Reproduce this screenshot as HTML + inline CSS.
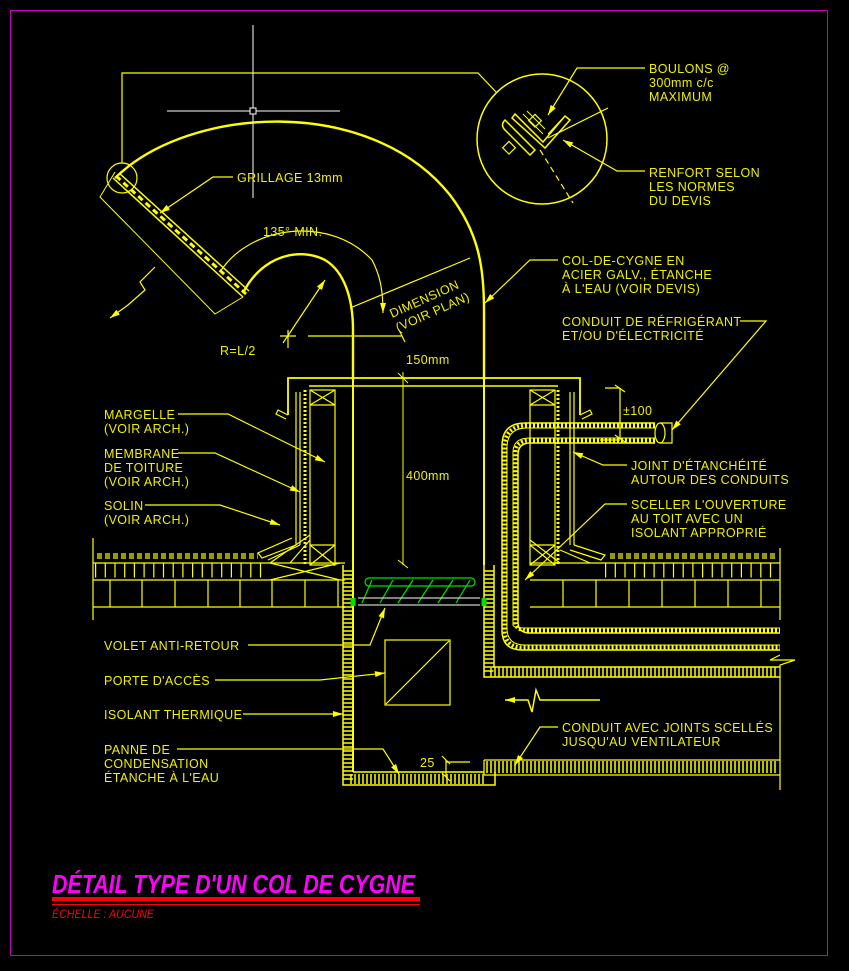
<!DOCTYPE html>
<html><head><meta charset="utf-8"><style>
html,body{margin:0;padding:0;background:#000;}
svg{display:block;}
text{font-family:"Liberation Sans",sans-serif;font-size:12.5px;fill:#f0f000;letter-spacing:0.4px;}
</style></head><body>
<svg width="849" height="971" viewBox="0 0 849 971" xmlns="http://www.w3.org/2000/svg">
<defs>
<marker id="a" viewBox="0 0 10 6" refX="10" refY="3" markerWidth="12" markerHeight="6" markerUnits="userSpaceOnUse" orient="auto"><path d="M0,0L10,3L0,6z" fill="#ff0"/></marker>
</defs>
<rect x="10.5" y="10.5" width="817" height="945" fill="none" stroke="#c000c0" stroke-width="1"/>

<g stroke="#fff" stroke-width="1" fill="none">
<line x1="253" y1="25" x2="253" y2="198"/><line x1="167" y1="111" x2="340" y2="111"/>
<rect x="250" y="108" width="6" height="6" fill="#000"/>
</g>

<g stroke="#ff0" fill="none" stroke-width="1.2">
<path d="M115,178 C190,105 370,95 450,195 C478,232 484,265 484,310 L484,380" stroke-width="2.4"/>
<path d="M243,293 C262,255 300,247 325,260 C345,272 353,300 353,330 L353,380" stroke-width="2.4"/>
<path d="M113,178 L243,297 M119,173 L249,291" stroke-width="1.5"/>
<path d="M116,176 L246,294" stroke-dasharray="6,4" stroke-width="3"/>
<path d="M115,172 L100,197 L215,314 L243,297" stroke-width="1"/>
<circle cx="122" cy="178" r="15"/>
<path d="M122,163 V73 H478 L497,93"/>
<path d="M155,267 L140,282 L145,290 L128,305 L110,318" marker-end="url(#a)"/>
<path d="M220,272 C250,225 330,215 372,260 C380,275 383,290 383,313" marker-end="url(#a)"/>
<path d="M308,336 H402 M399,330 L405,342"/>
<path d="M280,336 H296 M288,330 V348"/>
<path d="M283,343 L325,280" marker-end="url(#a)"/>
<path d="M350,308 L470,258"/>
<!-- detail circle -->
<circle cx="542" cy="139" r="65" stroke-width="1.5"/>
<path d="M540,150 L573,203" stroke-dasharray="6,4"/>
<path d="M548,138 L608,108"/>
<path d="M505,120 Q500,125 505,130 L530,155 L535,150 L510,125 Z" stroke-width="1.5"/>
<path d="M515,114 L543,142 L565,116 L570,120 L545,148 L512,118 Z" stroke-width="1.5"/>
<path d="M519,118 L540,139 M523,114 L543,134 M527,111 L545,129 M548,134 L563,118" stroke-width="1"/>
<rect x="531" y="116" width="9" height="9" transform="rotate(45 535 120)"/>
<rect x="505" y="143" width="9" height="9" transform="rotate(45 509 147)"/>
<path d="M645,68 H577 L548,115" marker-end="url(#a)"/>
<path d="M645,171 H617 L563,140" marker-end="url(#a)"/>
<!-- cap -->
<path d="M288,415 V378 H580 V415" stroke-width="1.8"/>
<path d="M309,386 H558" stroke-width="1.5"/>
<path d="M288,415 L278,410 L276,414 L286,419 M580,415 L590,410 L592,414 L582,419"/>
<path d="M296,392 V545 M300,392 V545 M570,392 V545 M574,392 V545"/>
<rect x="310" y="390" width="25" height="175"/><rect x="530" y="390" width="25" height="175"/>
<path d="M310,405 H335 M310,390 L335,405 M335,390 L310,405 M310,545 H335 M310,545 L335,565 M335,545 L310,565"/>
<path d="M530,405 H555 M530,390 L555,405 M555,390 L530,405 M530,545 H555 M530,545 L555,565 M555,545 L530,565"/>
<path d="M305,390 V565 M558,390 V565" stroke-width="3" stroke-dasharray="2,2"/>
<path d="M296,545 L262,558 L258,553 L292,538 M300,545 L268,560"/>
<path d="M270,563 L310,535 M290,563 L310,540 M574,545 L605,555 L601,560 L570,550 M560,563 L530,540 M560,550 L590,563"/>
<path d="M353,380 V772 M484,380 V565" stroke-width="2"/>
<path d="M403,372 V565 M398,560 L408,568 M398,373 L408,383" stroke-width="1"/>
<!-- left roof -->
<path d="M93,538 V620 M93,563 H345 M93,580 H345 M93,607 H345 M110,580 V607 M142,580 V607 M175,580 V607 M208,580 V607 M240,580 V607 M272,580 V607 M305,580 V607 M338,580 V607"/>
<path d="M95,570 H265" stroke-dasharray="1.2,8.5" stroke-width="15"/>
<path d="M270,563 L340,580 M340,563 L270,580"/>
<path d="M97,556 H258" stroke-dasharray="5,3" stroke-width="6" stroke-opacity="0.6"/>
<path d="M530,563 H780 M530,580 H780 M530,607 H780 M563,580 V607 M596,580 V607 M629,580 V607 M662,580 V607 M695,580 V607 M728,580 V607 M761,580 V607 M780,548 V620"/>
<path d="M605,570 H780" stroke-dasharray="1.2,8.5" stroke-width="15"/>
<path d="M610,556 H778" stroke-dasharray="5,3" stroke-width="6" stroke-opacity="0.6"/>
<!-- insulated duct walls -->
<path d="M343,565 V785 H495 V772 M353,772 H484" stroke-width="1.5"/>
<path d="M348,570 V780" stroke-dasharray="2,2" stroke-width="10" stroke-opacity="0.75"/>
<path d="M350,779 H485" stroke-dasharray="2,2" stroke-width="10" stroke-opacity="0.75"/>
<path d="M484,565 V677 H780 M494,565 V667 H780" stroke-width="1.5"/>
<path d="M489,570 V672" stroke-dasharray="2,2" stroke-width="9" stroke-opacity="0.75"/>
<path d="M490,672 H778" stroke-dasharray="2,2" stroke-width="9" stroke-opacity="0.75"/>
<path d="M780,655 L770,660 H795 L780,665 V677"/>
<path d="M484,760 H780 M484,775 H780 M484,760 V775"/>
<path d="M486,767 H778" stroke-dasharray="2,2" stroke-width="12" stroke-opacity="0.75"/>
<path d="M780,677 V790"/>
<!-- conduits -->
<path d="M655,423 H525 Q502,423 502,446 V630 Q502,650 522,650 H780" stroke-width="1.5"/>
<path d="M655,443 H530 Q518,443 518,455 V622 Q518,633 530,633 H780" stroke-width="1.5"/>
<path d="M655,428 H527 Q507,428 507,448 V628 Q507,645 525,645 H780" stroke-width="1"/>
<path d="M655,438 H530 Q513,438 513,452 V625 Q513,628 528,628 H780" stroke-width="1"/>
<path d="M655,425.5 H527 Q504.5,425.5 504.5,448 V629 Q504.5,647.5 523,647.5 H780 M655,440.5 H530 Q515.5,440.5 515.5,453 V623 Q515.5,630.5 529,630.5 H780" stroke-dasharray="2,2" stroke-width="4"/>
<ellipse cx="660" cy="433" rx="5" ry="10"/>
<path d="M660,423 H672 V443 H660"/>
<path d="M605,388 H620 M620,388 V438 M615,385 L625,392 M615,435 L625,442 M600,440 H620"/>
<g stroke="#00e000">
<rect x="365" y="578" width="110" height="8" rx="4"/>
<path d="M362,603 L372,580 M380,603 L393,580 M398,603 L413,580 M418,603 L433,580 M438,603 L453,580 M456,603 L470,580"/>
<path d="M353,598 V606 M484,598 V606" stroke-width="5"/>
</g>
<path d="M358,598 H480 M358,605 H480" stroke="#ccc"/>
<rect x="385" y="640" width="65" height="65"/><path d="M386,704 L449,641"/>
<path d="M600,700 H540 L536,690 L532,712 L528,700 H505" marker-end="url(#a)" stroke-width="1.5"/>
<path d="M446,760 V777 M442,756 L450,764 M442,773 L450,781 M446,762 H470"/>
<path d="M558,260 H530 L485,303" marker-end="url(#a)"/>
<path d="M740,321 H766 L672,430" marker-end="url(#a)"/>
<path d="M233,177 H213 L160,213" marker-end="url(#a)"/>
<path d="M178,414 H228 L325,462" marker-end="url(#a)"/>
<path d="M178,453 H215 L300,492" marker-end="url(#a)"/>
<path d="M145,505 H220 L280,525" marker-end="url(#a)"/>
<path d="M627,465 H603 L573,452" marker-end="url(#a)"/>
<path d="M627,504 H605 L525,580" marker-end="url(#a)"/>
<path d="M248,645 H370 L385,608" marker-end="url(#a)"/>
<path d="M215,680 H320 L385,673" marker-end="url(#a)"/>
<path d="M243,714 H343" marker-end="url(#a)"/>
<path d="M177,749 H383 L399,774" marker-end="url(#a)"/>
<path d="M558,727 H540 L515,765" marker-end="url(#a)"/>
</g>

<text x="649" y="73">BOULONS @</text>
<text x="649" y="87">300mm c/c</text>
<text x="649" y="101">MAXIMUM</text>
<text x="649" y="177">RENFORT SELON</text>
<text x="649" y="191">LES NORMES</text>
<text x="649" y="205">DU DEVIS</text>
<text x="237" y="182">GRILLAGE 13mm</text>
<text x="263" y="236">135° MIN.</text>
<text transform="translate(392,318) rotate(-24)">DIMENSION</text>
<text transform="translate(398,332) rotate(-24)">(VOIR PLAN)</text>
<text x="220" y="355">R=L/2</text>
<text x="562" y="265">COL-DE-CYGNE EN</text>
<text x="562" y="279">ACIER GALV., ÉTANCHE</text>
<text x="562" y="293">À L'EAU (VOIR DEVIS)</text>
<text x="562" y="326">CONDUIT DE RÉFRIGÉRANT</text>
<text x="562" y="340">ET/OU D'ÉLECTRICITÉ</text>
<text x="406" y="364">150mm</text>
<text x="406" y="480">400mm</text>
<text x="623" y="415">±100</text>
<text x="104" y="419">MARGELLE</text>
<text x="104" y="433">(VOIR ARCH.)</text>
<text x="104" y="458">MEMBRANE</text>
<text x="104" y="472">DE TOITURE</text>
<text x="104" y="486">(VOIR ARCH.)</text>
<text x="104" y="510">SOLIN</text>
<text x="104" y="524">(VOIR ARCH.)</text>
<text x="631" y="470">JOINT D'ÉTANCHÉITÉ</text>
<text x="631" y="484">AUTOUR DES CONDUITS</text>
<text x="631" y="509">SCELLER L'OUVERTURE</text>
<text x="631" y="523">AU TOIT AVEC UN</text>
<text x="631" y="537">ISOLANT APPROPRIÉ</text>
<text x="104" y="650">VOLET ANTI-RETOUR</text>
<text x="104" y="685">PORTE D'ACCÈS</text>
<text x="104" y="719">ISOLANT THERMIQUE</text>
<text x="104" y="754">PANNE DE</text>
<text x="104" y="768">CONDENSATION</text>
<text x="104" y="782">ÉTANCHE À L'EAU</text>
<text x="562" y="732">CONDUIT AVEC JOINTS SCELLÉS</text>
<text x="562" y="746">JUSQU'AU VENTILATEUR</text>
<text x="420" y="767">25</text>

<text x="52" y="893" textLength="363" lengthAdjust="spacingAndGlyphs" style="font-family:'Liberation Sans Narrow','Liberation Sans',sans-serif;font-size:26px;font-weight:bold;font-style:italic;fill:#ff00ff;letter-spacing:0">DÉTAIL TYPE D'UN COL DE CYGNE</text>
<rect x="52" y="897" width="368" height="4" fill="#ff0000"/>
<rect x="52" y="904" width="368" height="1.2" fill="#ff0000"/>
<text x="52" y="918" textLength="102" lengthAdjust="spacingAndGlyphs" style="font-family:'Liberation Sans Narrow','Liberation Sans',sans-serif;font-size:12px;font-style:italic;fill:#ff0000;letter-spacing:0">ÉCHELLE : AUCUNE</text>
</svg>
</body></html>
